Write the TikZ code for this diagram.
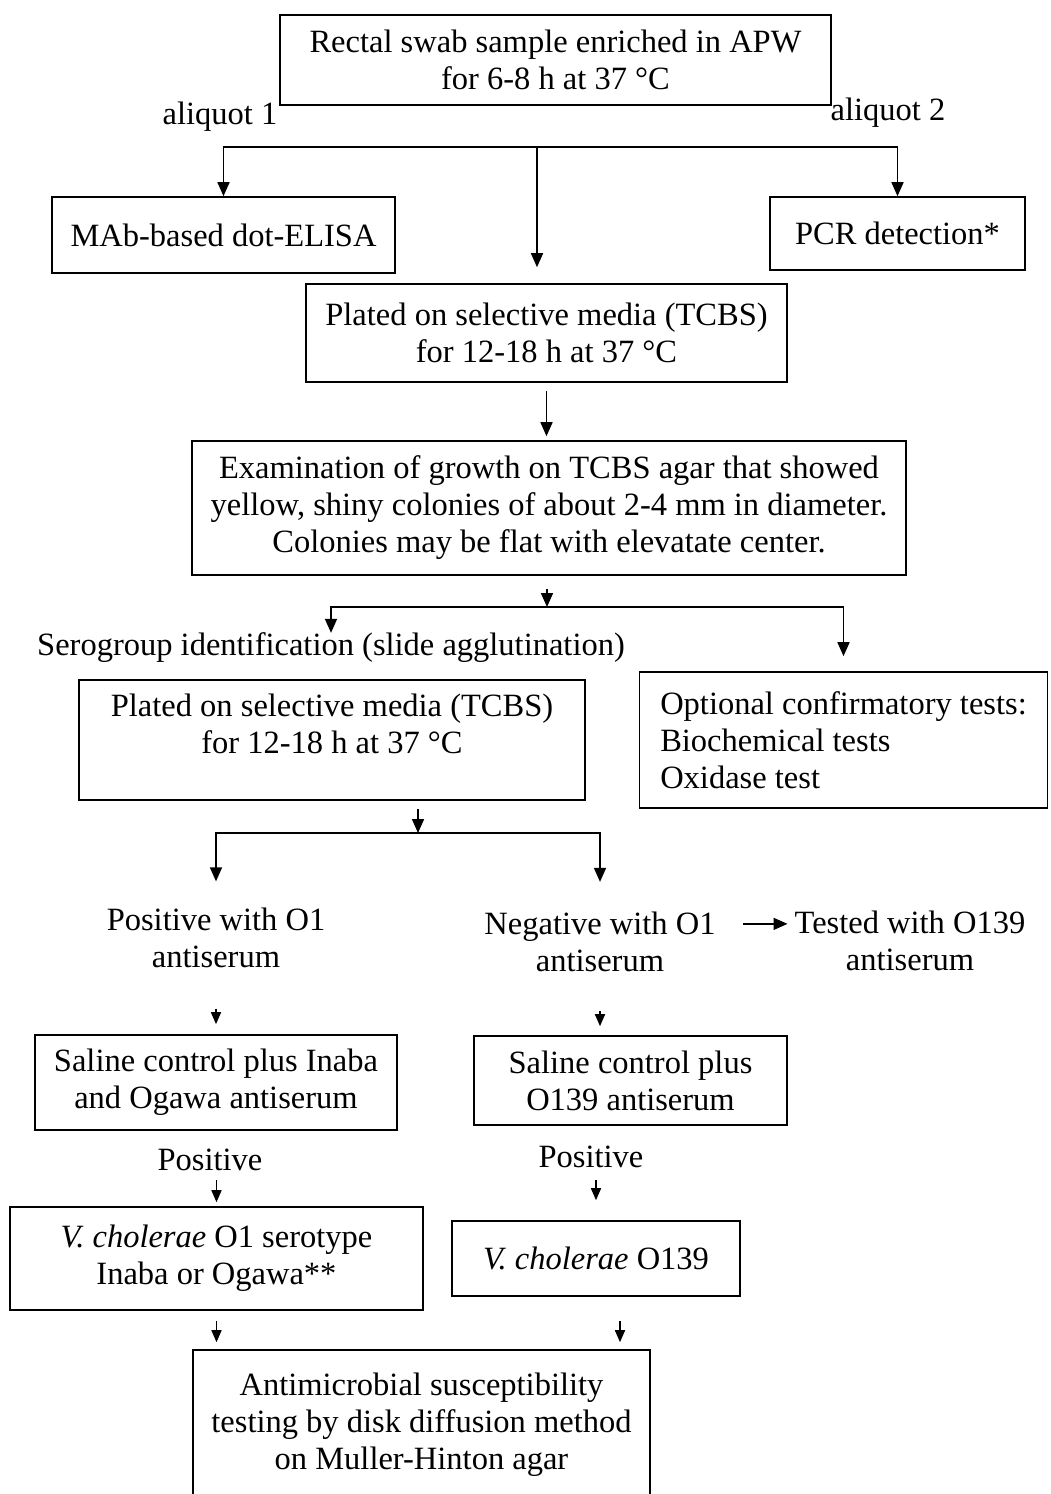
\documentclass[tikz,border=0pt]{standalone}
\usepackage{fontspec}
\setmainfont{Liberation Serif}
\usetikzlibrary{positioning, arrows.meta, calc}

\begin{document}
\begin{tikzpicture}[
  x=1pt, y=-1pt,
  font=\fontsize{32.5}{37}\selectfont,
  box/.style={draw, line width=1.6pt, align=center, inner sep=0pt},
  plain/.style={align=center, inner sep=0pt},
  arrow/.style={-{Triangle[length=14pt, width=12pt]}, line width=1.6pt},
  smallarrow/.style={-{Triangle[length=12pt, width=10pt]}, line width=1.6pt},
]
\useasboundingbox (0,0) rectangle (1050,1494);

% Enrichment, then the three first branches
\node[box, minimum width=551pt, minimum height=90pt] (swab) at (555.5,60) {Rectal swab sample enriched in APW\\for 6-8 h at 37~°C};
\node[plain] (aliq1) at (220,117) {aliquot 1};
\node[plain] (aliq2) at (888,113) {aliquot 2};

\node[box, minimum width=343pt, minimum height=76pt] (elisa) at (223.5,235) {MAb-based dot-ELISA};
\node[box, minimum width=255pt, minimum height=73pt] (pcr) at (897.5,233.5) {PCR detection*};
\node[box, minimum width=481pt, minimum height=98pt] (plate1) at (546.5,333) {Plated on selective media (TCBS)\\for 12-18 h at 37~°C};

\node[box, minimum width=714pt, minimum height=134pt] (exam) at (549,508) {Examination of growth on TCBS agar that showed\\yellow, shiny colonies of about 2-4 mm in diameter.\\Colonies may be flat with elevatate center.};

% Serogroup identification and optional tests
\node[plain] (sero) at (331,648) {Serogroup identification (slide agglutination)};
\node[box, minimum width=506pt, minimum height=120pt] (plate2) at (332,740) {Plated on selective media (TCBS)\\for 12-18 h at 37~°C\\[-5pt]\mbox{}};
\node[box, align=left, minimum width=408pt, minimum height=136pt] (opt) at (843.5,740) {Optional confirmatory tests:\\Biochemical tests\\Oxidase test};

% O1 / O139 testing
\node[plain] (pos) at (216,937.5) {Positive with O1\\antiserum};
\node[plain] (neg) at (600,942) {Negative with O1\\antiserum};
\node[plain] (tested) at (910,941) {Tested with O139\\antiserum};

\node[box, minimum width=362pt, minimum height=95pt] (sal1) at (216,1082.5) {Saline control plus Inaba\\and Ogawa antiserum};
\node[box, minimum width=313pt, minimum height=89pt] (sal2) at (630.5,1080.5) {Saline control plus\\O139 antiserum};

\node[plain] (poslab1) at (210,1160) {Positive};
\node[plain] (poslab2) at (591,1157) {Positive};

\node[box, minimum width=413pt, minimum height=103pt] (vc1) at (216.5,1258.5) {\textit{V. cholerae} O1 serotype\\Inaba or Ogawa**};
\node[box, minimum width=288pt, minimum height=75pt] (vc2) at (596,1258.5) {\textit{V. cholerae} O139};

\node[box, minimum width=457pt, minimum height=150pt] (anti) at (421.5,1425) {Antimicrobial susceptibility\\testing by disk diffusion method\\on Muller-Hinton agar};

% Branch points
\coordinate (fork1) at (537,147);
\coordinate (fork2) at (547,607);
\coordinate (fork3) at (418,833);

% Arrows
\draw[arrow] (fork1) -| (elisa.north);
\draw[arrow] (fork1) -| (pcr.north);
\draw[arrow, shorten >=16pt] (fork1) -- (fork1 |- plate1.north);
\draw[arrow, shorten <=8pt, shorten >=4pt] (plate1.south) -- (plate1.south |- exam.north);

\draw[arrow, shorten <=13pt] (fork2 |- exam.south) -- (fork2);
\draw[arrow] (fork2) -| (sero.north);
\draw[arrow, shorten >=15pt] (fork2) -| (opt.north);

\draw[arrow, shorten <=8pt] (fork3 |- plate2.south) -- (fork3);
\draw[arrow, shorten >=26pt] (fork3) -| (pos.north);
\draw[arrow, shorten >=30pt] (fork3) -| (neg.north);
\draw[arrow, shorten <=27pt, shorten >=7pt] ([yshift=-12pt]neg.north east) -- ([yshift=-12pt]neg.north east -| tested.west);

\draw[smallarrow, shorten <=41pt, shorten >=10pt] (pos.south) -- (sal1.north);
\draw[smallarrow, shorten <=39pt, shorten >=9pt] (neg.south) -- (neg.south |- sal2.north);
\draw[smallarrow, shorten <=9pt, shorten >=4pt] (vc1.north |- poslab1.south) -- (vc1.north);
\draw[smallarrow, shorten <=12pt, shorten >=20pt] (vc2.north |- poslab2.south) -- (vc2.north);
\draw[smallarrow, shorten <=10pt, shorten >=7pt] (vc1.south) -- (vc1.south |- anti.north);
\draw[smallarrow, shorten <=24pt, shorten >=7pt] ([xshift=24pt]vc2.south) -- ([xshift=24pt]vc2.south |- anti.north);

\end{tikzpicture}
\end{document}
